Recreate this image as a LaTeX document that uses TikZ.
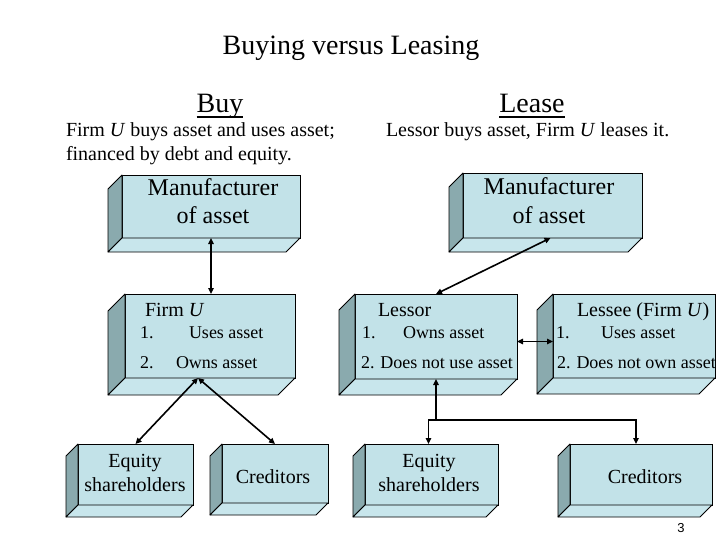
\documentclass[tikz,border=0pt]{standalone}
\usepackage{fontspec}
\setmainfont{Liberation Serif}
\newfontfamily\pgnumfont{Liberation Sans}
\usetikzlibrary{arrows.meta,calc}
\definecolor{frontcol}{RGB}{194,226,232}
\definecolor{leftcol}{RGB}{138,170,174}
\definecolor{bottomcol}{RGB}{200,230,236}
% name, x1, y1, x2, y2, depth
\newcommand\cubebox[6]{%
  \node[frontface, minimum width={(#4)-(#2)}, minimum height={(#5)-(#3)}] (#1) at ({((#2)+(#4))/2},{((#3)+(#5))/2}) {};
  \filldraw[sideface, fill=leftcol] (#1.north west) -- (#1.south west) -- ++(-#6,#6) -- ($(#1.north west)+(-#6,#6)$) -- cycle;
  \filldraw[sideface, fill=bottomcol] (#1.south west) -- (#1.south east) -- ++(-#6,#6) -- ($(#1.south west)+(-#6,#6)$) -- cycle;
}
\begin{document}
\begin{tikzpicture}[x=1pt,y=-1pt,
  frontface/.style={draw=black, line width=0.8pt, fill=frontcol, inner sep=0pt, outer sep=0pt},
  sideface/.style={draw=black, line width=0.8pt, line join=round},
  txt/.style={inner sep=0pt, outer sep=0pt},
  big/.style={font=\fontsize{28}{32}\selectfont},
  sub/.style={font=\fontsize{20}{24}\selectfont},
  manu/.style={font=\fontsize{24}{28}\selectfont},
  item/.style={font=\fontsize{18}{22}\selectfont},
  conn/.style={draw=black, line width=1.6pt, line join=miter},
  tip/.tip={Triangle[length=6pt,width=5.5pt]},
]
\useasboundingbox (0,0) rectangle (720,540);
\fill[white] (0,0) rectangle (720,540);

% headings
\node[txt, big, anchor=base] (title) at (351,55) {Buying versus Leasing};
\node[txt, big, anchor=base] (buy) at (220,113) {Buy};
\node[txt, big, anchor=base] (lease) at (532,113) {Lease};
\draw[line width=1.6pt] ([yshift=-4pt]buy.base west) -- ([yshift=-4pt]buy.base east);
\draw[line width=1.6pt] ([yshift=-4pt]lease.base west) -- ([yshift=-4pt]lease.base east);
\node[txt, sub, anchor=base west] (buyl1) at (66,137) {Firm \textit{U} buys asset and uses asset;};
\node[txt, sub, anchor=base west] (buyl2) at (66,161) {financed by debt and equity.};
\node[txt, sub, anchor=base west] (leasel1) at (386,137) {Lessor buys asset, Firm \textit{U} leases it.};

% boxes
\cubebox{ManL}{122}{175}{300}{238}{14}
\cubebox{ManR}{463}{173}{642}{238}{14}
\cubebox{FirmU}{125}{294}{295}{378}{17}
\cubebox{Lessor}{355}{294}{517}{379}{16}
\cubebox{Lessee}{553}{294}{715}{378}{16}
\cubebox{EqL}{78}{444}{193}{505}{12}
\cubebox{CredL}{222}{444}{328}{503}{12}
\cubebox{EqR}{365}{444}{498}{505}{12}
\cubebox{CredR}{570}{444}{712}{505}{12}

% box texts
\node[txt, manu, anchor=base] (manLa) at (213,196) {Manufacturer};
\node[txt, manu, anchor=base] (manLb) at (213,224) {of asset};
\node[txt, manu, anchor=base] (manRa) at (549,195) {Manufacturer};
\node[txt, manu, anchor=base] (manRb) at (549,223) {of asset};

\node[txt, sub, anchor=base west] (fuT) at (145,316) {Firm \textit{U}};
\node[txt, item, anchor=base west] (fu1n) at (140,338) {1.};
\node[txt, item, anchor=base west] (fu1) at (189,338) {Uses asset};
\node[txt, item, anchor=base west] (fu2n) at (140,368) {2.};
\node[txt, item, anchor=base west] (fu2) at (176,368) {Owns asset};

\node[txt, sub, anchor=base west] (lrT) at (378,316) {Lessor};
\node[txt, item, anchor=base west] (lr1n) at (362,338) {1.};
\node[txt, item, anchor=base west] (lr1) at (403,338) {Owns asset};
\node[txt, item, anchor=base west] (lr2) at (361,368) {2. Does not use asset};

\node[txt, sub, anchor=base west] (leT) at (577,316) {Lessee (Firm \textit{U})};
\node[txt, item, anchor=base west] (le1n) at (556,338) {1.};
\node[txt, item, anchor=base west] (le1) at (601,338) {Uses asset};
\node[txt, item, anchor=base west] (le2) at (557,368) {2. Does not own asset};

\node[txt, sub, anchor=base] (eqLa) at (135,467) {Equity};
\node[txt, sub, anchor=base] (eqLb) at (135,491) {shareholders};
\node[txt, sub, anchor=base] (crL) at (273,483) {Creditors};
\node[txt, sub, anchor=base] (eqRa) at (429,467) {Equity};
\node[txt, sub, anchor=base] (eqRb) at (429,491) {shareholders};
\node[txt, sub, anchor=base] (crR) at (645,483) {Creditors};

% connectors
\draw[conn, tip-tip] (ManL.south) -- (ManL.south |- FirmU.north);
\draw[conn, tip-tip] (Lessor.north) -- ([xshift=-2pt]ManR.south);
\draw[conn, tip-tip] ([yshift=-5pt]Lessor.east) -- ([yshift=-5pt]Lessor.east -| Lessee.west);
\coordinate (apex) at ([xshift=-12pt]FirmU.south);
\draw[conn, tip-tip] (apex) -- (EqL.north);
\draw[conn, tip-tip] (apex) -- (CredL.north);
\coordinate (jn) at (Lessor.south |- 0,420);
\coordinate (hl) at ([xshift=-3pt]EqR.north |- jn);
\coordinate (hr) at ([xshift=-5pt]CredR.north |- jn);
\draw[conn, tip-] (Lessor.south) -- (jn);
\draw[conn, tip-tip] ([xshift=-3pt]EqR.north) -- (hl) -- (hr) -- ([xshift=-5pt]CredR.north);

\node[txt, font=\pgnumfont\fontsize{13}{15}\selectfont, anchor=base] (pg) at (681,532) {3};
\end{tikzpicture}
\end{document}
